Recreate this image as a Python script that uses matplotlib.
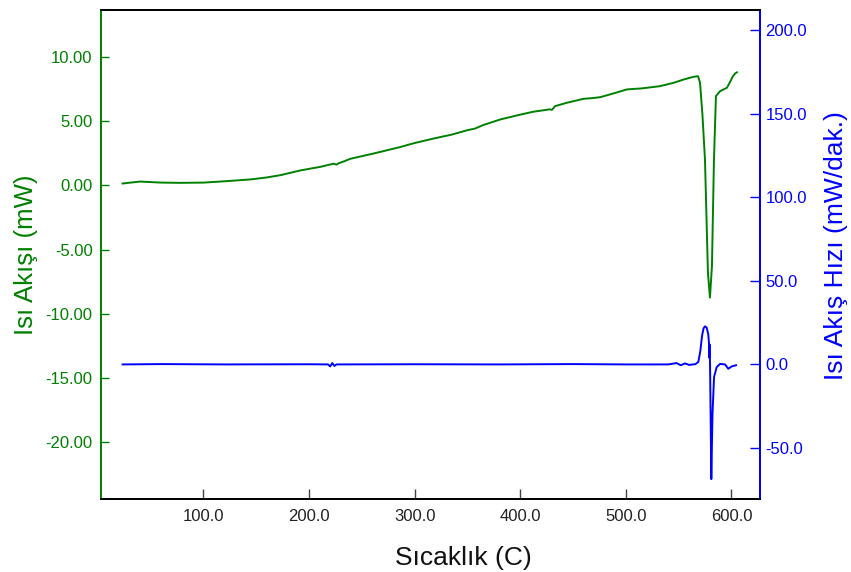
import numpy as np
import matplotlib
matplotlib.use("Agg")
import matplotlib.pyplot as plt

plt.rcParams['font.family'] = ['Liberation Sans', 'DejaVu Sans']
plt.rcParams['axes.unicode_minus'] = False

GREEN = '#008000'
BLUE = '#0000ff'

# heat flow (mW) vs temperature (C)
temp_hf = [23.4, 40, 60, 78, 100, 116, 130, 145, 160, 173, 192, 211, 223, 226, 228,
           234, 239, 262, 286, 300, 318, 335, 350, 357, 365, 381, 397, 412, 428,
           430, 433, 444, 460, 469, 476, 490, 501, 515, 532, 545, 555, 564, 568.3,
           570.2, 572.5, 574.9, 577.7, 579.6, 581.5, 583.4, 585.3, 589.1, 595.7,
           598, 601.4, 603.5, 605.2]
heat_flow = [0.15, 0.3, 0.22, 0.2, 0.22, 0.3, 0.38, 0.47, 0.62, 0.8, 1.17, 1.45, 1.69,
             1.62, 1.72, 1.9, 2.07, 2.5, 2.98, 3.3, 3.65, 3.95, 4.3, 4.42, 4.7, 5.13,
             5.45, 5.73, 5.92, 5.88, 6.17, 6.43, 6.74, 6.8, 6.87, 7.2, 7.47, 7.55,
             7.72, 7.98, 8.25, 8.45, 8.5, 8.0, 5.5, 2.0, -6.8, -8.73, -6.27, 2.0,
             6.95, 7.33, 7.6, 7.95, 8.5, 8.72, 8.8]

# heat flow rate (mW/dak.) vs temperature (C)
temp_rate = [23.4, 60, 120, 200, 218, 220, 222, 224, 226, 300, 380, 450, 500, 540,
             548, 552, 556, 560, 566, 568.6, 570.5, 572.1, 573.5, 574.9, 576.5, 578,
             578.8, 579, 579.2, 579.7, 580.9, 582, 583.5, 586, 589.1, 593.9, 597,
             600.2, 604.3]
heat_rate = [0.0, 0.2, 0.0, 0.1, 0.0, -1.2, 0.8, -0.9, 0.0, 0.1, 0.0, 0.2, 0.0, 0.0,
             0.8, -0.5, 0.6, -0.3, 0.2, 1.5, 8.0, 17.0, 21.5, 22.8, 22.0, 18.0,
             12.0, 4.0, 12.0, 0.0, -68.6, -30.0, -7.5, -1.6, 0.3, 0.0, -2.6, -1.2,
             -0.5]

fig = plt.figure(figsize=(8.51, 5.72), dpi=100)
ax = fig.add_axes([101 / 851, 1 - 499 / 572, (760 - 101) / 851, (499 - 10) / 572])
ax2 = ax.twinx()

ax.plot(temp_hf, heat_flow, color=GREEN, lw=1.4)
ax2.plot(temp_rate, heat_rate, color=BLUE, lw=1.4)

ax.set_xlim(3, 627)
ax.set_ylim(-24.4, 13.65)
ax2.set_ylim(-80.5, 212)

ax.set_xticks([100, 200, 300, 400, 500, 600])
ax.set_xticklabels([f'{v:.1f}' for v in ax.get_xticks()])
ax.set_yticks([10, 5, 0, -5, -10, -15, -20])
ax.set_yticklabels([f'{v:.2f}' for v in ax.get_yticks()])
ax2.set_yticks([200, 150, 100, 50, 0, -50])
ax2.set_yticklabels([f'{v:.1f}' for v in ax2.get_yticks()])

ax.tick_params(axis='x', direction='in', length=7, width=1, color='#444444',
               labelsize=12, pad=7, labelcolor='#222222')
ax.tick_params(axis='y', direction='in', length=6, width=1, color=GREEN,
               labelsize=12, pad=6, labelcolor=GREEN)
ax2.tick_params(axis='y', direction='in', length=7, width=1, color=BLUE,
                labelsize=12, pad=4, labelcolor=BLUE)

for a in (ax, ax2):
    a.spines['top'].set_color('black')
    a.spines['bottom'].set_color('black')
    a.spines['left'].set_color(GREEN)
    a.spines['right'].set_color(BLUE)
    for s in a.spines.values():
        s.set_linewidth(1.3)

fig.text(26 / 851, 1 - 255 / 572, 'Isı Akışı (mW)', rotation=90, color=GREEN,
         fontsize=18.5, ha='center', va='center')
fig.text(836 / 851, 1 - 246 / 572, 'Isı Akış Hızı (mW/dak.)', rotation=90, color=BLUE,
         fontsize=19, ha='center', va='center')
fig.text(463 / 851, 1 - 558 / 572, 'Sıcaklık (C)', color='#111111',
         fontsize=19, ha='center', va='center')

fig.savefig('out.png', dpi=100)
